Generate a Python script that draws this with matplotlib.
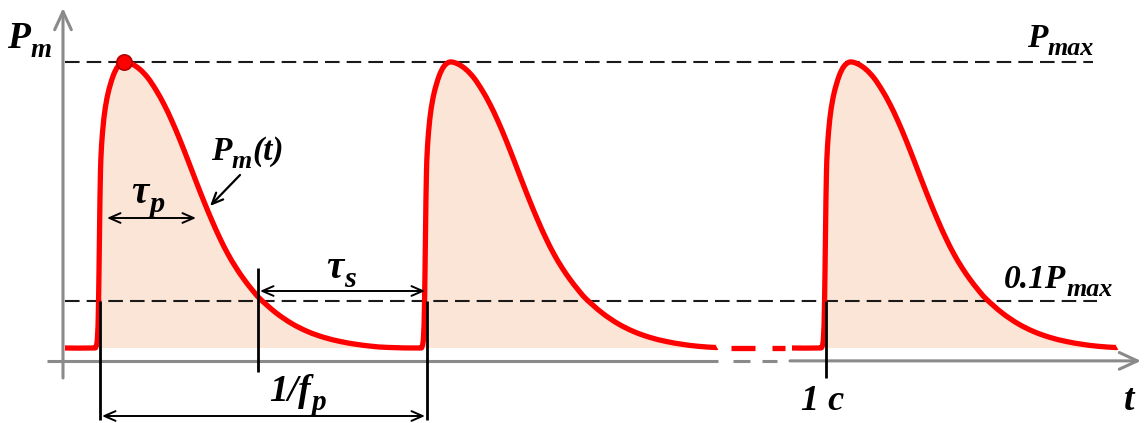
import numpy as np
import matplotlib
matplotlib.use("Agg")
import matplotlib.pyplot as plt
from matplotlib.path import Path
from matplotlib.patches import PathPatch, Rectangle

plt.rcParams['font.family'] = ['Liberation Serif', 'DejaVu Serif']

# ---------------- data ----------------
pulse_peaks = [124, 450, 850]             # time of each pulse maximum
segment_spans = [(65, 717), (792, 1117)]  # solid parts of the curve
fill_spans = [(100, 717), (822, 1117)]
break_red = [(731, 755), (772, 785)]
break_axis = [(733, 750), (762, 777)]
# pulse shape (offset from peak, P/Pmax)
profile_dt = [-32, -28, -26.5, -25.5, -24.5, -23.5, -22, -19.5, -16, -11, -6, 0,
              8, 16, 24, 32, 40, 48, 56, 64, 72, 80, 88, 96, 104, 112, 120, 128,
              136, 152, 168, 184, 200, 216, 232, 248, 264]
profile_p = [0.0, 0.005, 0.04, 0.15, 0.4, 0.62, 0.73, 0.82, 0.89, 0.95, 0.985, 1.0,
             0.993, 0.974, 0.944, 0.902, 0.852, 0.793, 0.727, 0.656, 0.583, 0.512,
             0.445, 0.383, 0.328, 0.281, 0.240, 0.204, 0.172, 0.123, 0.085, 0.057,
             0.037, 0.023, 0.013, 0.006, 0.002]
p_max = 1.0
p_thr = 0.164          # level labelled 0.1 P_max
axis_level = -0.045
t_onsets = [100, 427]  # 0.1Pmax crossings used for 1/f_p
t_fall = 258           # end of tau_p region / start of tau_s
t_one = 826

# ---------------- figure ----------------
W, H = 1144, 423
fig = plt.figure(figsize=(W / 100, H / 100), dpi=100)
ax = fig.add_axes([0, 0, 1, 1])
def Y(py):
    return (348 - py) / 286.0
ax.set_xlim(0, W)
ax.set_ylim(Y(H), Y(0))
ax.axis('off')

red = '#ff0000'
grey = '#8a8a8a'
fillc = '#fbe5d6'
dark = '#1a1a1a'

t_all, p_all = [], []
for pk in pulse_peaks:
    t_all += [pk + d for d in profile_dt]
    p_all += profile_p
t_all = np.array(t_all, float)
p_all = np.array(p_all, float)


def smooth_path(pts):
    """Catmull-Rom through the points, rendered as cubic Bezier segments."""
    n = len(pts)
    verts = [pts[0]]
    codes = [Path.MOVETO]
    for i in range(n - 1):
        p0 = pts[i - 1] if i > 0 else pts[i]
        p1 = pts[i]
        p2 = pts[i + 1]
        p3 = pts[i + 2] if i + 2 < n else pts[i + 1]
        c1 = p1 + (p2 - p0) / 6.0
        c2 = p2 - (p3 - p1) / 6.0
        verts += [c1, c2, p2]
        codes += [Path.CURVE4] * 3
    return np.array(verts), codes


for (a, b) in segment_spans:
    m = (t_all > a) & (t_all < b)
    ts = np.concatenate([[a], t_all[m]])
    ps = np.concatenate([[0.0], p_all[m]])
    if ts[-1] < b:
        ts = np.append(ts, b)
        ps = np.append(ps, ps[-1])
    pts = np.column_stack([ts, ps])
    verts, codes = smooth_path(pts)
    line_path = Path(verts, codes)
    fverts = np.vstack([verts, [[ts[-1], 0.0], [ts[0], 0.0], [ts[0], 0.0]]])
    fcodes = list(codes) + [Path.LINETO, Path.LINETO, Path.CLOSEPOLY]
    for (fa, fb) in fill_spans:
        if fa >= a and fb <= b:
            patch = PathPatch(Path(fverts, fcodes), facecolor=fillc, edgecolor='none', zorder=1)
            ax.add_patch(patch)
            clip = Rectangle((fa, -1), fb - fa, 3, transform=ax.transData)
            patch.set_clip_path(clip)
    ax.add_patch(PathPatch(line_path, facecolor='none', edgecolor=red, lw=3.8,
                           joinstyle='round', capstyle='butt', zorder=4))

for (a, b) in break_red:
    ax.plot([a, b], [0, 0], color=red, lw=3.8, solid_capstyle='butt', zorder=4)

# axes lines
ax.plot([47, 718], [axis_level] * 2, color=grey, lw=2.2, zorder=2, solid_capstyle='butt')
for (a, b) in break_axis:
    ax.plot([a, b], [axis_level] * 2, color=grey, lw=2.2, zorder=2, solid_capstyle='butt')
ax.annotate('', xy=(1141, axis_level), xytext=(790, axis_level),
            arrowprops=dict(arrowstyle='->,head_length=1.3,head_width=0.6',
                            color=grey, lw=2.2, shrinkA=0, shrinkB=0), zorder=2)
ax.annotate('', xy=(63, Y(8)), xytext=(63, Y(378)),
            arrowprops=dict(arrowstyle='->,head_length=1.3,head_width=0.6',
                            color=grey, lw=2.2, shrinkA=0, shrinkB=0), zorder=2)

# dashed reference lines
ax.plot([65, 1093], [p_max, p_max], color=dark, lw=1.5, dashes=(7, 3.4), zorder=3)
ax.plot([65, 1097], [p_thr, p_thr], color=dark, lw=1.5, dashes=(7, 3.4), zorder=3)

# peak marker
ax.plot([pulse_peaks[0]], [p_max], 'o', ms=11, mfc=red, mec='#b00000', mew=1.2, zorder=6)

# black vertical markers
vk = dict(color='black', lw=2.0, zorder=5, solid_capstyle='butt')
ax.plot([t_onsets[0]] * 2, [p_thr, Y(420)], **vk)
ax.plot([t_onsets[1]] * 2, [p_thr, Y(420)], **vk)
ax.plot([t_fall] * 2, [Y(268), Y(372)], **vk)
ax.plot([t_one] * 2, [p_thr, Y(378)], **vk)

# double arrows
da = dict(arrowstyle='<->,head_length=0.8,head_width=0.35', color='black',
          lw=1.4, shrinkA=0, shrinkB=0)
ax.annotate('', xy=(107, Y(218)), xytext=(196, Y(218)), arrowprops=da, zorder=5)
ax.annotate('', xy=(t_fall + 2, Y(291)), xytext=(t_onsets[1] - 2, Y(291)), arrowprops=da, zorder=5)
ax.annotate('', xy=(t_onsets[0] + 2, Y(416)), xytext=(t_onsets[1] - 2, Y(416)), arrowprops=da, zorder=5)
# P_m(t) pointer
ax.annotate('', xy=(210, Y(206)), xytext=(240, Y(175)),
            arrowprops=dict(arrowstyle='->,head_length=0.8,head_width=0.35',
                            color='black', lw=1.6, shrinkA=0, shrinkB=0), zorder=5)

# texts built from pieces; subscripts drawn as smaller, lowered text
renderer = fig.canvas.get_renderer()
inv = ax.transData.inverted()


def label(x_px, base_px, pieces, size, subscale=0.78, drop=0.24):
    x = x_px
    for s, is_sub in pieces:
        fs = size * subscale if is_sub else size
        yb = base_px + (drop * size * 100 / 72 if is_sub else 0)
        t = ax.text(x, Y(yb), s, fontsize=fs, fontweight='bold', fontstyle='italic',
                    ha='left', va='baseline', color='black', zorder=7)
        bb = t.get_window_extent(renderer)
        x = inv.transform((bb.x1, bb.y0))[0] + 0.5


label(7, 48, [('P', False), ('m', True)], 27, subscale=0.72)
label(1027, 47, [('P', False), ('max', True)], 24)
label(1004, 288, [('0.1P', False), ('max', True)], 24)
label(211, 160, [('P', False), ('m', True), ('(t)', False)], 24)
label(131, 203, [('\u03c4', False), ('p', True)], 28)
label(326, 278, [('\u03c4', False), ('s', True)], 28)
label(269, 401, [('1/f', False), ('p', True)], 27)
label(801, 410, [('1 c', False)], 26)
label(1124, 410, [('t', False)], 27)

fig.savefig('out.png', dpi=100)
